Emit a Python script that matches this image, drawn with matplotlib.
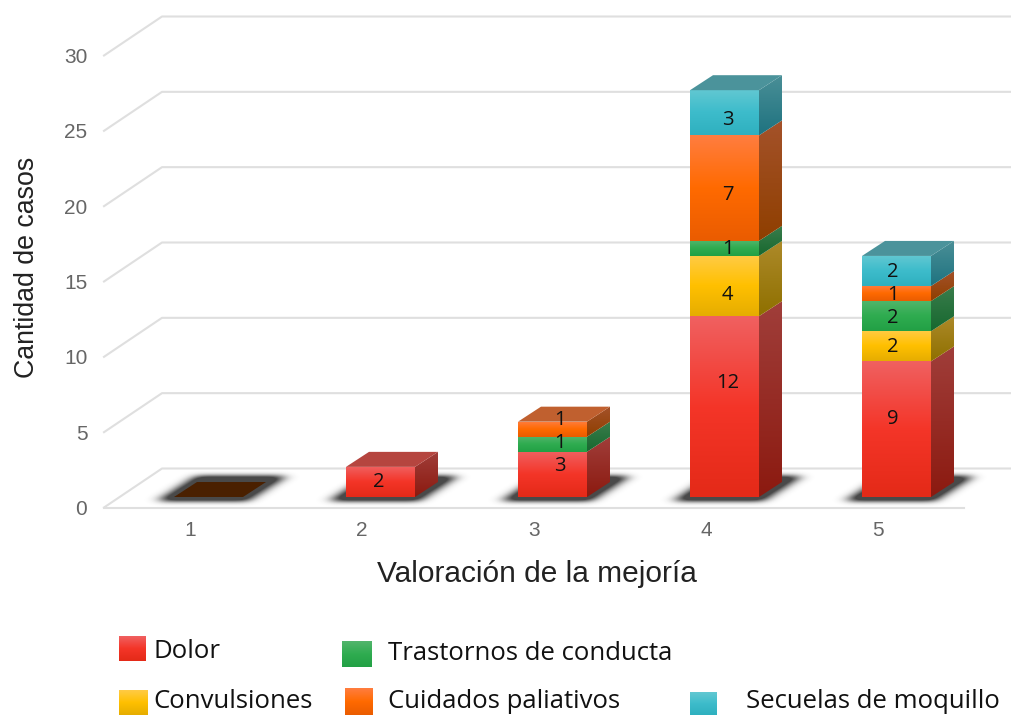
import matplotlib
matplotlib.use("Agg")
import matplotlib.pyplot as plt
from matplotlib.colors import LinearSegmentedColormap
from matplotlib.patches import Polygon
import numpy as np

categories = ["1", "2", "3", "4", "5"]
y_ticks = [0, 5, 10, 15, 20, 25, 30]

series_names = ["Dolor", "Convulsiones", "Trastornos de conducta", "Cuidados paliativos", "Secuelas de moquillo"]
dolor = [0, 2, 3, 12, 9]
convulsiones = [0, 0, 0, 4, 2]
trastornos = [0, 0, 1, 1, 2]
cuidados = [0, 0, 1, 7, 1]
secuelas = [0, 0, 0, 3, 2]

# front gradient (top, middle, bottom), then side (top, bottom), then top face
front_colors = [["#f06060", "#f43528", "#e42a18"], ["#ffcb45", "#ffc000", "#e6ad00"],
                ["#52b56c", "#2fac50", "#22a045"], ["#ff7d3f", "#ff6a00", "#ea5c00"],
                ["#62c8d2", "#3dbccb", "#2fb0bf"]]
side_colors = [["#a03e3a", "#8c1a10"], ["#ad8a2a", "#8f7000"], ["#3a7d4c", "#17682f"],
               ["#a4522a", "#8f3f00"], ["#4a8f97", "#1f7380"]]
top_colors = ["#b5453f", "#b58f2f", "#3a8a50", "#c0602f", "#4b939b"]

# the labels in the picture are not centred on their segments, shift in pixels
label_dx = [0, -1.5, 7.5, 3, -3.5]
label_dy = [[0, 0, -8, -24, -10], [0, 0, 0, 9, 1], [0, 0, -1, 1, 2], [0, 0, -9, 7, 1], [0, 0, 0, 7, 1]]

W, H = 1012, 715
fig = plt.figure(figsize=(W / 100, H / 100), dpi=100)
ax = fig.add_axes([104 / W, (H - 507.5) / H, 860 / W, 452 / H])
ax.set_xlim(0.5, 5.5)
ax.set_ylim(0, 30)
px_x = 172.0
px_y = 452 / 30

# 3d look, offsets in pixels turned into data units
wall_dx, wall_dy = 58 / px_x, 39 / px_y
depth_dx, depth_dy = 23 / px_x, 15 / px_y
bar_shift = 18.5 / px_x
bar_w = 69 / px_x
base = 10.5 / px_y


def grad_face(a, verts, colors):
    cmap = LinearSegmentedColormap.from_list("g", colors)
    xs = [v[0] for v in verts]
    ys = [v[1] for v in verts]
    img = a.imshow(np.linspace(0, 1, 64).reshape(-1, 1), cmap=cmap, aspect="auto", zorder=3,
                   extent=[min(xs), max(xs), min(ys), max(ys)], interpolation="bilinear")
    img.set_clip_path(Polygon(verts, transform=a.transData))


def blur(arr, sigma, axis):
    r = int(sigma * 3)
    kernel = np.exp(-0.5 * (np.arange(-r, r + 1) / sigma) ** 2)
    kernel /= kernel.sum()
    return np.apply_along_axis(lambda m: np.convolve(m, kernel, mode="same"), axis, arr)


def shadow(a, left, right):
    # parallelogram under the bar, blurred on a one pixel grid
    x0, x1 = left - 45 / px_x, right + depth_dx + 45 / px_x
    y0, y1 = base - 16 / px_y, base + depth_dy + 16 / px_y
    xs = np.linspace(x0, x1, int((x1 - x0) * px_x))
    ys = np.linspace(y1, y0, int((y1 - y0) * px_y))
    X, Y = np.meshgrid(xs, ys)
    t = (Y - base) / depth_dy
    mask = (t > -0.3) & (t < 1.4) & (X - t * depth_dx > left - 10 / px_x) & (X - t * depth_dx < right + 10 / px_x)
    soft = blur(blur(mask.astype(float), 6.5, 1), 2.4, 0)
    rgba = np.zeros(soft.shape + (4,))
    rgba[..., :3] = 0.13
    rgba[..., 3] = np.clip(soft * 1.5, 0, 1) * 0.82
    a.imshow(rgba, aspect="auto", extent=[x0, x1, y0, y1], zorder=2, clip_on=False, interpolation="bilinear")


for t in y_ticks:
    ax.plot([0.5, 0.5 + wall_dx, 7], [t, t + wall_dy, t + wall_dy], color="#dfdfdf", lw=1.5,
            clip_on=False, zorder=1, solid_joinstyle="round")
ax.plot([0.5, 5.5], [0, 0], color="#dfdfdf", lw=1.5, clip_on=False, zorder=1)

all_series = [dolor, convulsiones, trastornos, cuidados, secuelas]
for i in range(len(categories)):
    left = i + 1 + bar_shift - bar_w / 2
    right = left + bar_w
    shadow(ax, left, right)

    bottom = 0
    last = None
    for s, vals in enumerate(all_series):
        v = vals[i]
        if v == 0:
            continue
        y0, y1 = base + bottom, base + bottom + v
        grad_face(ax, [(left, y0), (right, y0), (right, y1), (left, y1)], front_colors[s])
        grad_face(ax, [(right, y0), (right + depth_dx, y0 + depth_dy), (right + depth_dx, y1 + depth_dy), (right, y1)],
                  side_colors[s])
        ax.text(i + 1 + bar_shift + label_dx[i] / px_x, (y0 + y1) / 2 - label_dy[s][i] / px_y, str(v),
                ha="center", va="center", fontsize=14.5, family="Open Sans", color="#111111", zorder=5)
        bottom += v
        last = s
    top_verts = [(left, base + bottom), (right, base + bottom), (right + depth_dx, base + bottom + depth_dy),
                 (left + depth_dx, base + bottom + depth_dy)]
    top_col = top_colors[last] if last is not None else "#4a2000"
    ax.add_patch(Polygon(top_verts, closed=True, fc=top_col, ec="none", zorder=4))

ax.set_xlim(0.5, 5.5)
ax.set_ylim(0, 30)
ax.set_aspect("auto")
ax.patch.set_visible(False)
for sp in ax.spines.values():
    sp.set_visible(False)
ax.set_xticks(range(1, 6))
ax.set_xticklabels(categories)
ax.set_yticks(y_ticks)
ax.tick_params(length=0, labelsize=15, labelcolor="#666666", pad=10)
ax.tick_params(axis="y", pad=12)
for lab in ax.get_xticklabels() + ax.get_yticklabels():
    lab.set_family("Liberation Sans")
ax.set_xlabel("Valoración de la mejoría", fontsize=21.5, family="Liberation Sans", color="#222222", labelpad=14)
fig.text(27 / W, 1 - 267 / H, "Cantidad de casos", rotation=90, ha="center", va="center",
         fontsize=19.3, family="Liberation Sans", color="#222222")
ax.xaxis.label.set_x((536.5 - 104) / 860)

# hand placed legend, overlay axes in pixels from the top
lg = fig.add_axes([0, 0, 1, 1])
lg.axis("off")
swatches = [(119, 146, 636, 661), (119, 148, 690, 715), (342, 372, 641, 667), (345, 373, 688, 715), (690, 717, 692, 715)]
text_pos = [(154, 652), (153, 702), (388, 654), (388, 702), (746, 702)]
for s, name in enumerate(series_names):
    x0, x1, y0, y1 = swatches[s]
    grad_face(lg, [(x0, H - y1), (x1, H - y1), (x1, H - y0), (x0, H - y0)], front_colors[s])
    lg.text(text_pos[s][0], H - text_pos[s][1], name, ha="left", va="center", fontsize=18.5,
            family="Open Sans", color="#111111")
lg.set_xlim(0, W)
lg.set_ylim(0, H)

fig.savefig("out.png", dpi=100)
